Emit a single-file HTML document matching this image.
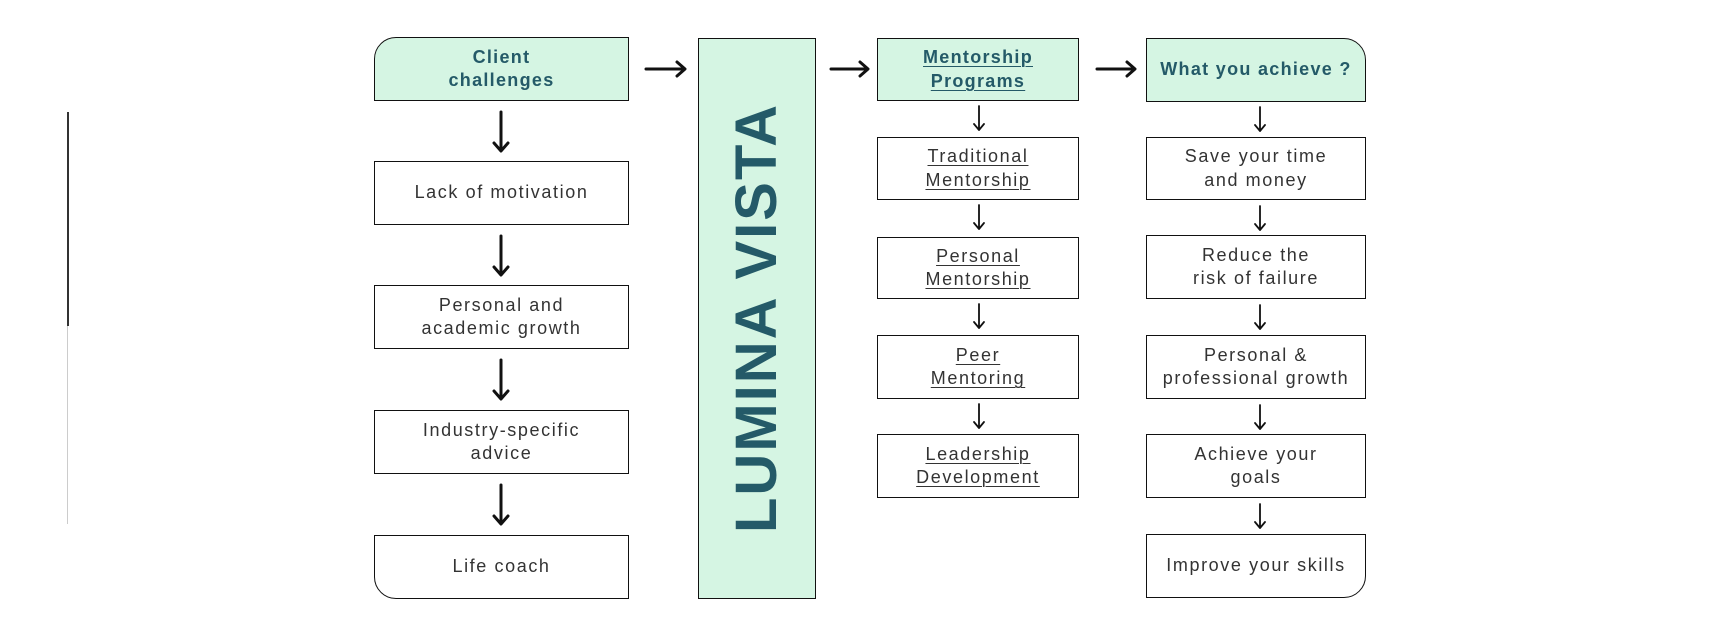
<!DOCTYPE html>
<html><head><meta charset="utf-8"><style>
*{margin:0;padding:0;box-sizing:border-box}
body{width:1734px;height:631px;background:#fff;position:relative;overflow:hidden;font-family:"Liberation Sans",sans-serif}
.b{position:absolute;border:1.3px solid #111;background:#fff;display:flex;align-items:center;justify-content:center;text-align:center;font-size:18px;line-height:23.5px;letter-spacing:1.6px;color:#333}
.g{background:#d5f5e3;color:#245a68;font-weight:bold;letter-spacing:1.3px}
.u{text-decoration:underline;text-underline-offset:3px;text-decoration-thickness:1px}
</style></head><body>
<div style="position:absolute;left:67px;top:112px;width:1.5px;height:214px;background:#333"></div>
<div style="position:absolute;left:67px;top:326px;width:1px;height:198px;background:#ccc"></div>

<div class="b g" style="left:374px;top:37px;width:255px;height:64px;border-top-left-radius:22px">Client<br>challenges</div>
<div class="b" style="left:374px;top:161px;width:255px;height:64px">Lack of motivation</div>
<div class="b" style="left:374px;top:285px;width:255px;height:64px">Personal and<br>academic growth</div>
<div class="b" style="left:374px;top:410px;width:255px;height:64px">Industry-specific<br>advice</div>
<div class="b" style="left:374px;top:535px;width:255px;height:64px;border-bottom-left-radius:22px">Life coach</div>

<div class="b g" style="left:698px;top:38px;width:118px;height:561px"></div>
<div style="position:absolute;left:757px;top:318px;transform:translate(-50%,-50%) rotate(-90deg);font-weight:bold;font-size:58px;letter-spacing:2px;color:#245a68;white-space:nowrap;line-height:1">LUMINA VISTA</div>

<div class="b g" style="left:877px;top:38px;width:202px;height:63px"><span class="u">Mentorship<br>Programs</span></div>
<div class="b" style="left:877px;top:137px;width:202px;height:63px"><span class="u">Traditional<br>Mentorship</span></div>
<div class="b" style="left:877px;top:237px;width:202px;height:62px"><span class="u">Personal<br>Mentorship</span></div>
<div class="b" style="left:877px;top:335px;width:202px;height:64px"><span class="u">Peer<br>Mentoring</span></div>
<div class="b" style="left:877px;top:434px;width:202px;height:64px"><span class="u">Leadership<br>Development</span></div>

<div class="b g" style="left:1146px;top:38px;width:220px;height:64px;border-top-right-radius:22px">What you achieve ?</div>
<div class="b" style="left:1146px;top:137px;width:220px;height:63px">Save your time<br>and money</div>
<div class="b" style="left:1146px;top:235px;width:220px;height:64px">Reduce the<br>risk of failure</div>
<div class="b" style="left:1146px;top:335px;width:220px;height:64px">Personal &amp;<br>professional growth</div>
<div class="b" style="left:1146px;top:434px;width:220px;height:64px">Achieve your<br>goals</div>
<div class="b" style="left:1146px;top:534px;width:220px;height:64px;border-bottom-right-radius:22px">Improve your skills</div>

<svg style="position:absolute;left:0;top:0" width="1734" height="631" fill="none" stroke="#111" stroke-linecap="round" stroke-linejoin="round">
<g stroke-width="3">
<path d="M501 112V150M494 143L501 151L508 143"/>
<path d="M501 236V274M494 267L501 275L508 267"/>
<path d="M501 360V398M494 391L501 399L508 391"/>
<path d="M501 485V523M494 516L501 524L508 516"/>
<path d="M646 69H684M677 62L685 69L677 76"/>
<path d="M831 69H867M860 62L868 69L860 76"/>
<path d="M1097 69H1134M1127 62L1135 69L1127 76"/>
</g>
<g stroke-width="1.8">
<path d="M979 106V130M974 124L979 130L984 124"/>
<path d="M979 205V229M974 223L979 229L984 223"/>
<path d="M979 304V328M974 322L979 328L984 322"/>
<path d="M979 404V428M974 422L979 428L984 422"/>
<path d="M1260 107V131M1255 125L1260 131L1265 125"/>
<path d="M1260 206V230M1255 224L1260 230L1265 224"/>
<path d="M1260 305V329M1255 323L1260 329L1265 323"/>
<path d="M1260 405V429M1255 423L1260 429L1265 423"/>
<path d="M1260 504V528M1255 522L1260 528L1265 522"/>
</g>
</svg>
</body></html>
